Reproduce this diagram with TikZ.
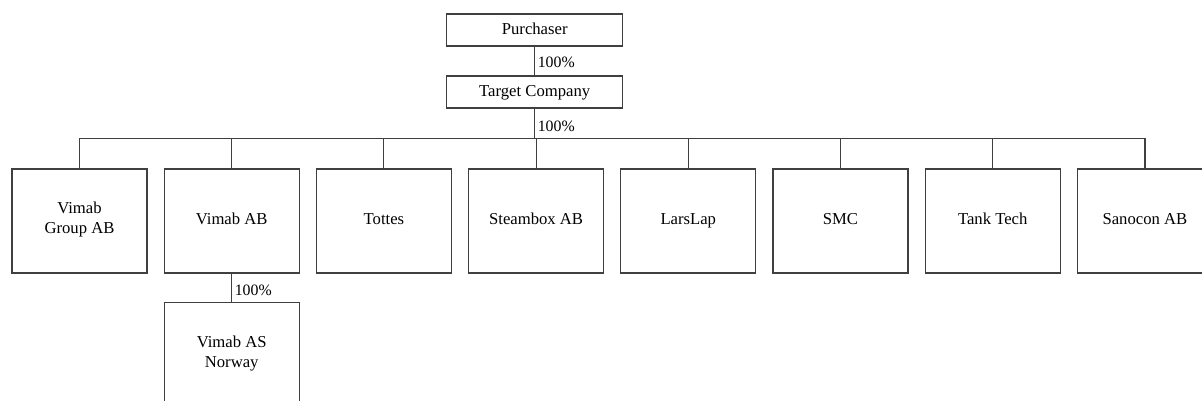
\documentclass[tikz,border=0pt]{standalone}
\usepackage{fontspec}
\setmainfont{Liberation Serif}
\usetikzlibrary{positioning}

\tikzset{
    owner/.style={draw=black!75, line width=0.7pt, inner sep=0pt,
        minimum width=105.6pt, minimum height=19.2pt,
        text height=7pt, text depth=2pt},
    subsid/.style={draw=black!75, line width=0.7pt, inner sep=0pt, align=center,
        minimum width=81pt, minimum height=62.4pt,
        execute at begin node=\strut},
    link/.style={draw=black!75, line width=0.7pt},
    share/.style={right, inner sep=1.5pt, font=\fontsize{9.5}{11}\selectfont}
}

\begin{document}
\begin{tikzpicture}[x=0.6pt, y=-0.6pt]
        \clip (0, 0) rectangle (1202, 401);

        \node[owner] (purchaser) at (534.7, 30) {Purchaser};
        \node[owner] (target) at (534.7, 92) {Target Company};

        \node[subsid] (vgroup) at (79.5, 221) {Vimab\\Group AB};
        \node[subsid] (vab) at (231.7, 221) {Vimab AB};
        \node[subsid] (tottes) at (383.9, 221) {Tottes};
        \node[subsid] (steambox) at (536.1, 221) {Steambox AB};
        \node[subsid] (larslap) at (688.3, 221) {LarsLap};
        \node[subsid] (smc) at (840.5, 221) {SMC};
        \node[subsid] (tanktech) at (992.7, 221) {Tank Tech};
        \node[subsid] (sanocon) at (1144.9, 221) {Sanocon AB};

        \node[subsid] (vas) at (231.7, 354.7) {Vimab AS\\Norway};

        \coordinate (bus) at (534.7, 138.3);

        \draw[link] (purchaser) -- node[share, pos=0.55] {100\%} (target);
        \draw[link] (target) -- node[share, pos=0.6] {100\%} (bus);
        \draw[link] (vgroup.north) |- (bus) -| (sanocon.north);
        \foreach \n in {vab, tottes, steambox, larslap, smc, tanktech}
            \draw[link] (\n.north) -- (\n.north |- bus);
        \draw[link] (vab) -- node[share, pos=0.6] {100\%} (vas);
    \end{tikzpicture}
\end{document}
